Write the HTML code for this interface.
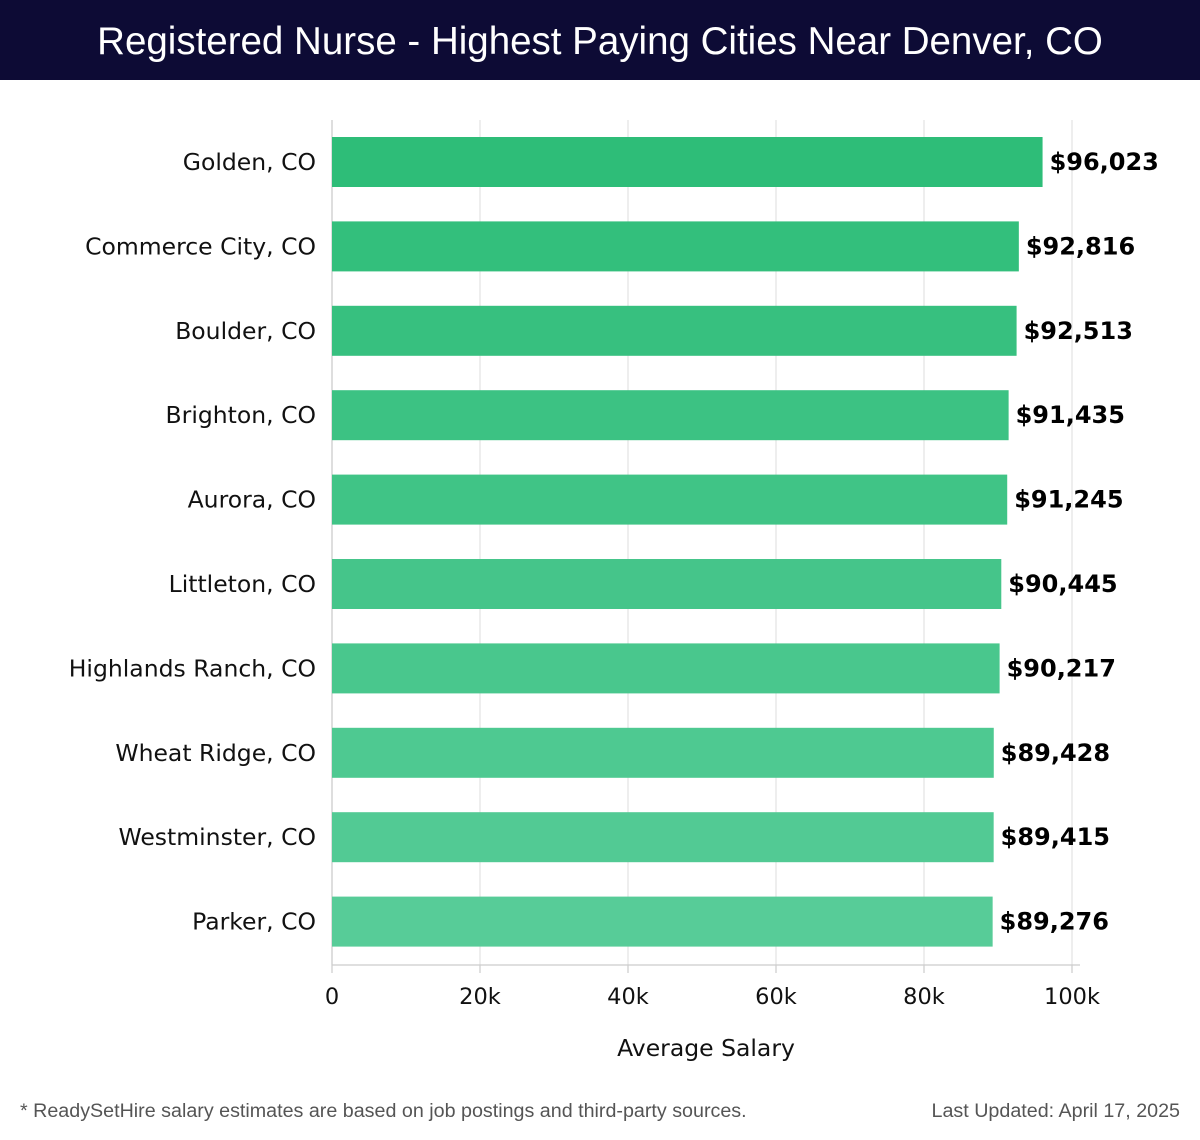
<!DOCTYPE html>
<html><head><meta charset="utf-8"><style>
body{margin:0;width:1200px;height:1140px;background:#fff;overflow:hidden;font-family:"DejaVu Sans","Liberation Sans",sans-serif;}
#title{position:absolute;left:0;top:0;width:1200px;height:80px;background:#0d0b35;color:#fff;font:300 38.5px "Liberation Sans",sans-serif;text-align:center;line-height:84px;}
.foot{position:absolute;top:1100px;font-size:19.7px;color:#555;font-family:"Liberation Sans",sans-serif;}
</style></head><body>
<div id="title">Registered Nurse - Highest Paying Cities Near Denver, CO</div>
<svg id="chart" width="1200" height="1140" style="position:absolute;left:0;top:0"></svg>
<div class="foot" style="left:20px">* ReadySetHire salary estimates are based on job postings and third-party sources.</div>
<div class="foot" style="right:20px">Last Updated: April 17, 2025</div>
<script>
const cities=["Golden, CO","Commerce City, CO","Boulder, CO","Brighton, CO","Aurora, CO","Littleton, CO","Highlands Ranch, CO","Wheat Ridge, CO","Westminster, CO","Parker, CO"];
const salaries=[96023,92816,92513,91435,91245,90445,90217,89428,89415,89276];
const ticks=[0,20000,40000,60000,80000,100000];
const tickLabels=["0","20k","40k","60k","80k","100k"];
const NS="http://www.w3.org/2000/svg";
const svg=document.getElementById('chart');
const x0=332,x1=1072,plotTop=120,plotBot=965,step=84.4,firstC=162;
const X=v=>x0+(v-0)/100000*(x1-x0);
const Y=i=>firstC+i*step;
function mk(t,a){const e=document.createElementNS(NS,t);for(const k in a)e.setAttribute(k,a[k]);svg.appendChild(e);return e;}
ticks.forEach((t,i)=>{
  const g=mk('line',{x1:X(t),x2:X(t),y1:plotTop,y2:plotBot,stroke:'#e2e2e2','stroke-width':1.2});
  
  
  const tk=mk('line',{x1:X(t),x2:X(t),y1:plotBot,y2:plotBot+8,stroke:'#ccc','stroke-width':1.2});
  
  
  const l=mk('text',{x:X(t),y:1004,'text-anchor':'middle','font-size':22.5,fill:'#111'});
  l.textContent=tickLabels[i];
  
  
});
const ax=mk('line',{x1:x0,x2:x0,y1:plotTop,y2:plotBot,stroke:'#ccc','stroke-width':1.2});


const axx=mk('line',{x1:x0,x2:1080,y1:plotBot,y2:plotBot,stroke:'#ccc','stroke-width':1.2});


const n=cities.length;
cities.forEach((c,i)=>{
  const f=i/(n-1);
  const col=`rgb(${Math.round(46+f*(87-46))},${Math.round(189+f*(204-189))},${Math.round(120+f*(152-120))})`;
  const b=mk('rect',{x:x0,y:Y(i)-25,width:X(salaries[i])-x0,height:50,fill:col});
  
  
  const l=mk('text',{x:316,y:Y(i)+8,'text-anchor':'end','font-size':23.5,fill:'#111'});
  l.textContent=c;
  
  
  const v=mk('text',{x:X(salaries[i])+7,y:Y(i)+8,'font-size':24,'font-weight':'bold',fill:'#000'});
  v.textContent='$'+salaries[i].toLocaleString('en-US');
  
  
});
const at=mk('text',{x:(x0+1080)/2,y:1056,'text-anchor':'middle','font-size':23.5,fill:'#111'});
at.textContent='Average Salary';


</script>
</body></html>
